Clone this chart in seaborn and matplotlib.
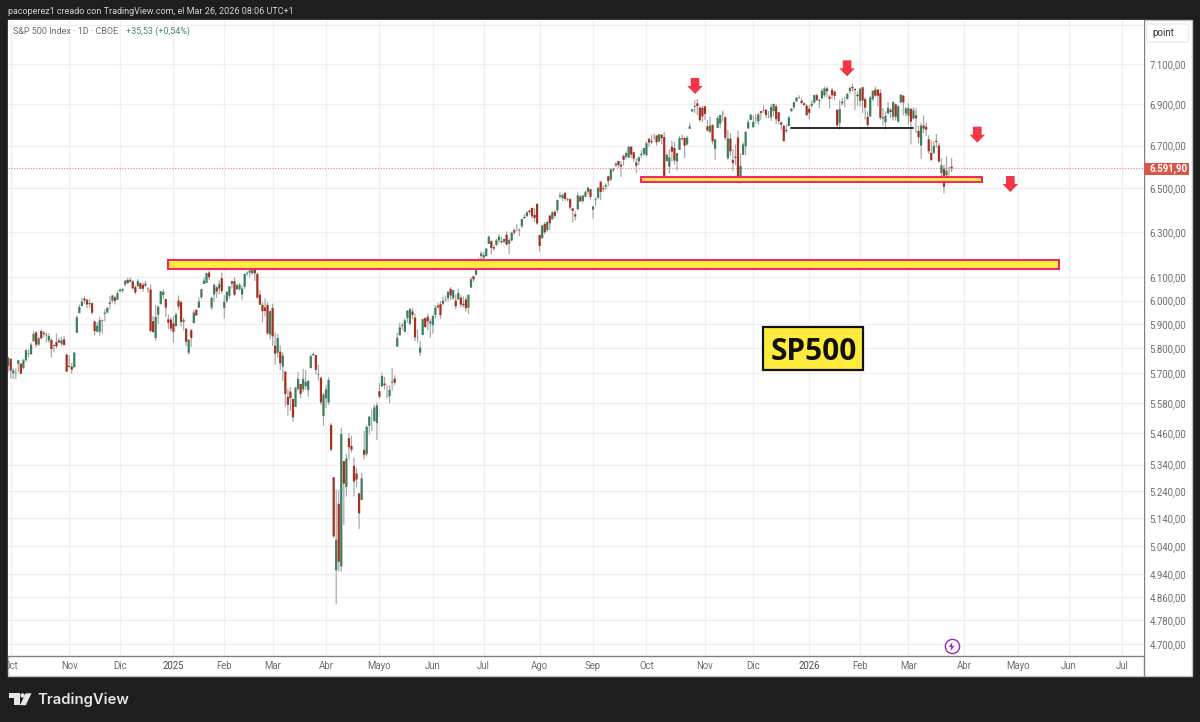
import matplotlib
matplotlib.use("Agg")
import numpy as np
import pandas as pd
import matplotlib.pyplot as plt
import seaborn as sns
from matplotlib.markers import MarkerStyle
from matplotlib.patches import Circle, Polygon, Rectangle, FancyBboxPatch
from matplotlib.path import Path
from matplotlib.ticker import NullLocator
from matplotlib.transforms import Bbox

# daily candles, one row per month (first value of the first row is the last bar of Sep 2024)
opens = [
    5727,
    5757, 5698, 5698, 5737, 5737, 5720, 5751, 5778, 5775, 5829, 5866, 5816, 5872, 5859, 5857, 5833, 5835, 5813, 5826, 5833, 5819, 5837, 5775,
    5723, 5725, 5722, 5864, 5947, 5977, 6009, 6003, 5985, 5989, 5912, 5870, 5869, 5914, 5944, 5950, 5992, 6000, 6014, 6004,
    6040, 6043, 6069, 6089, 6081, 6083, 6058, 6061, 6075, 6068, 6064, 6053, 6048, 5913, 5843, 5940, 5985, 6024, 6007, 5921, 5920,
    5904, 5892, 6000, 5994, 5911, 5882, 5782, 5875, 5905, 5961, 5970, 6015, 6072, 6077, 6121, 5970, 6027, 6057, 6052, 6097,
    5969, 5998, 6021, 6072, 6084, 6048, 6050, 6026, 6060, 6116, 6121, 6118, 6135, 6115, 6026, 5982, 5971, 5982, 5857,
    5969, 5811, 5782, 5786, 5726, 5705, 5603, 5624, 5594, 5563, 5635, 5655, 5633, 5646, 5630, 5719, 5772, 5772, 5695, 5680, 5527,
    5597, 5581, 5492, 5292, 4953, 5193, 4966, 5353, 5255, 5441, 5411, 5335, 5306, 5232, 5207, 5396, 5381, 5489, 5529, 5508, 5500,
    5626, 5645, 5657, 5606, 5606, 5660, 5676, 5807, 5854, 5896, 5869, 5927, 5902, 5954, 5928, 5841, 5782, 5855, 5926, 5932, 5903,
    5897, 5939, 5979, 5985, 5987, 6005, 6010, 6050, 6010, 6000, 6005, 6013, 5987, 6005, 5970, 6056, 6105, 6112, 6150, 6194,
    6187, 6193, 6247, 6260, 6233, 6243, 6263, 6255, 6256, 6288, 6248, 6263, 6308, 6305, 6307, 6326, 6368, 6371, 6397, 6409, 6378, 6428,
    6287, 6272, 6337, 6309, 6374, 6357, 6391, 6398, 6461, 6454, 6478, 6446, 6449, 6407, 6380, 6404, 6462, 6441, 6460, 6483, 6495,
    6401, 6445, 6456, 6530, 6499, 6506, 6555, 6540, 6588, 6606, 6627, 6609, 6651, 6647, 6643, 6695, 6668, 6620, 6625, 6655, 6661,
    6654, 6732, 6722, 6739, 6748, 6720, 6752, 6740, 6626, 6600, 6694, 6688, 6625, 6680, 6730, 6736, 6705, 6780, 6864, 6887, 6904, 6883, 6882,
    6890, 6792, 6766, 6798, 6685, 6785, 6805, 6854, 6836, 6640, 6733, 6632, 6647, 6738, 6556, 6656, 6697, 6782, 6823,
    6788, 6831, 6815, 6866, 6867, 6872, 6840, 6836, 6866, 6889, 6861, 6811, 6794, 6768, 6793, 6865, 6884, 6913, 6932, 6917, 6904, 6892,
    6878, 6892, 6908, 6944, 6915, 6929, 6944, 6978, 6937, 6970, 6961, 6872, 6810, 6904, 6915, 6925, 6965, 6985, 6975, 6947,
    6916, 6983, 6925, 6838, 6840, 6925, 6972, 6972, 6955, 6830, 6812, 6855, 6872, 6838, 6900, 6815, 6908, 6942, 6855,
    6845, 6877, 6830, 6845, 6770, 6700, 6796, 6790, 6730, 6665, 6665, 6722, 6700, 6570, 6590, 6560, 6548, 6600,
]
highs = [
    5765,
    5757, 5720, 5718, 5753, 5739, 5757, 5796, 5796, 5823, 5871, 5871, 5847, 5878, 5872, 5866, 5863, 5842, 5817, 5862, 5843, 5848, 5851, 5775,
    5772, 5741, 5783, 5937, 5984, 6013, 6018, 6010, 6009, 5993, 5915, 5909, 5932, 5920, 5964, 5974, 6020, 6025, 6020, 6044,
    6053, 6053, 6089, 6099, 6100, 6088, 6066, 6093, 6079, 6078, 6085, 6058, 6070, 5936, 5982, 5979, 6041, 6049, 6007, 5941, 5930,
    5936, 5950, 6022, 6000, 5928, 5882, 5838, 5881, 5961, 5964, 6014, 6051, 6100, 6119, 6129, 6018, 6074, 6064, 6087, 6121,
    6023, 6042, 6063, 6084, 6101, 6073, 6076, 6063, 6117, 6127, 6130, 6147, 6135, 6120, 6044, 5993, 6010, 5994, 5960,
    5987, 5866, 5860, 5812, 5783, 5705, 5636, 5642, 5598, 5645, 5704, 5655, 5716, 5711, 5670, 5776, 5783, 5772, 5732, 5685, 5620,
    5650, 5682, 5500, 5292, 5246, 5246, 5481, 5353, 5381, 5460, 5451, 5367, 5328, 5232, 5309, 5469, 5490, 5528, 5553, 5572, 5581,
    5659, 5700, 5683, 5649, 5650, 5720, 5690, 5864, 5907, 5906, 5925, 5959, 5969, 5968, 5945, 5878, 5830, 5923, 5930, 5944, 5922,
    5937, 5982, 5991, 5999, 6017, 6022, 6039, 6059, 6046, 6027, 6051, 6024, 6018, 6018, 6026, 6102, 6108, 6146, 6187, 6215,
    6211, 6228, 6285, 6263, 6242, 6269, 6291, 6279, 6271, 6303, 6272, 6301, 6316, 6336, 6317, 6360, 6381, 6395, 6402, 6410, 6409, 6428,
    6288, 6330, 6345, 6352, 6379, 6395, 6402, 6446, 6481, 6474, 6481, 6456, 6453, 6408, 6394, 6480, 6466, 6466, 6489, 6507, 6495,
    6417, 6458, 6503, 6533, 6512, 6522, 6555, 6593, 6594, 6620, 6627, 6625, 6657, 6672, 6697, 6697, 6668, 6639, 6648, 6677, 6689,
    6718, 6735, 6750, 6756, 6750, 6754, 6752, 6765, 6665, 6681, 6723, 6716, 6665, 6745, 6752, 6741, 6746, 6808, 6877, 6920, 6925, 6890, 6892,
    6890, 6823, 6839, 6803, 6733, 6843, 6847, 6869, 6842, 6775, 6759, 6684, 6706, 6771, 6662, 6716, 6767, 6824, 6849,
    6844, 6852, 6858, 6866, 6895, 6878, 6866, 6900, 6903, 6899, 6862, 6815, 6800, 6802, 6842, 6881, 6911, 6936, 6945, 6930, 6910, 6900,
    6895, 6920, 6946, 6952, 6926, 6978, 6986, 6986, 6945, 6980, 6967, 6874, 6920, 6933, 6938, 6956, 6989, 7002, 6978, 6964,
    6981, 6987, 6935, 6865, 6940, 6970, 6987, 6973, 6973, 6881, 6866, 6910, 6880, 6915, 6905, 6895, 6950, 6945, 6885,
    6905, 6880, 6885, 6880, 6795, 6810, 6845, 6810, 6750, 6725, 6720, 6755, 6712, 6640, 6610, 6650, 6600, 6640,
]
lows = [
    5703,
    5677, 5675, 5675, 5703, 5696, 5714, 5745, 5763, 5775, 5829, 5804, 5809, 5840, 5846, 5824, 5822, 5762, 5784, 5800, 5823, 5811, 5813, 5703,
    5723, 5696, 5722, 5864, 5947, 5976, 5985, 5966, 5970, 5942, 5854, 5865, 5853, 5860, 5912, 5945, 5963, 5992, 5984, 6004,
    6035, 6034, 6062, 6074, 6079, 6048, 6027, 6061, 6049, 6038, 6059, 6033, 5868, 5867, 5832, 5902, 5985, 6006, 5932, 5880, 5871,
    5824, 5892, 5960, 5891, 5874, 5809, 5774, 5805, 5905, 5936, 5970, 6007, 6072, 6075, 6088, 5962, 5995, 6012, 6027, 6030,
    5924, 5990, 6008, 6052, 6020, 6048, 6042, 6004, 6051, 6107, 6100, 6112, 6084, 6008, 5982, 5908, 5933, 5858, 5837,
    5810, 5733, 5762, 5711, 5667, 5565, 5529, 5547, 5505, 5563, 5628, 5598, 5622, 5633, 5604, 5719, 5768, 5694, 5670, 5572, 5489,
    5558, 5571, 5390, 5069, 4835, 4948, 4948, 5115, 5220, 5358, 5386, 5220, 5255, 5101, 5207, 5360, 5371, 5456, 5469, 5505, 5434,
    5597, 5645, 5634, 5598, 5578, 5628, 5650, 5807, 5854, 5878, 5868, 5907, 5895, 5921, 5830, 5825, 5768, 5855, 5884, 5875, 5844,
    5861, 5923, 5967, 5922, 5979, 5996, 5996, 6003, 6004, 5963, 6005, 5970, 5971, 5953, 5943, 6056, 6080, 6108, 6132, 6175,
    6175, 6192, 6247, 6201, 6218, 6237, 6249, 6248, 6249, 6242, 6201, 6258, 6286, 6304, 6281, 6317, 6358, 6371, 6380, 6362, 6344, 6332,
    6213, 6272, 6290, 6302, 6309, 6357, 6364, 6386, 6452, 6441, 6441, 6438, 6401, 6344, 6353, 6397, 6437, 6431, 6460, 6471, 6447,
    6361, 6417, 6448, 6445, 6482, 6491, 6510, 6533, 6575, 6598, 6594, 6552, 6605, 6635, 6642, 6641, 6622, 6570, 6606, 6639, 6650,
    6650, 6693, 6706, 6727, 6699, 6715, 6706, 6551, 6626, 6569, 6625, 6611, 6583, 6680, 6724, 6640, 6700, 6780, 6864, 6856, 6847, 6814, 6812,
    6824, 6766, 6759, 6705, 6631, 6785, 6782, 6815, 6725, 6632, 6650, 6580, 6607, 6521, 6521, 6656, 6654, 6782, 6823,
    6785, 6806, 6799, 6824, 6858, 6833, 6830, 6818, 6841, 6802, 6801, 6775, 6721, 6760, 6793, 6865, 6875, 6913, 6927, 6900, 6893, 6844,
    6825, 6883, 6902, 6916, 6880, 6922, 6934, 6933, 6878, 6925, 6920, 6790, 6775, 6894, 6884, 6923, 6951, 6961, 6871, 6893,
    6889, 6857, 6825, 6780, 6838, 6915, 6936, 6890, 6824, 6795, 6776, 6850, 6833, 6820, 6820, 6810, 6905, 6845, 6840,
    6800, 6705, 6825, 6760, 6710, 6636, 6760, 6745, 6660, 6625, 6660, 6690, 6618, 6555, 6476, 6530, 6530, 6575,
]
closes = [
    5762,
    5709, 5710, 5700, 5751, 5696, 5751, 5792, 5780, 5815, 5860, 5815, 5842, 5841, 5865, 5854, 5851, 5797, 5810, 5808, 5824, 5833, 5814, 5705,
    5729, 5713, 5783, 5929, 5973, 5996, 6001, 5984, 5990, 5949, 5871, 5894, 5917, 5917, 5949, 5969, 5987, 6022, 5999, 6032,
    6047, 6050, 6086, 6075, 6090, 6053, 6035, 6084, 6051, 6051, 6074, 6051, 5872, 5867, 5931, 5974, 6040, 6038, 5971, 5907, 5882,
    5869, 5942, 5975, 5909, 5918, 5827, 5836, 5843, 5950, 5937, 5997, 6049, 6086, 6119, 6101, 6012, 6068, 6039, 6071, 6041,
    5995, 6038, 6061, 6084, 6026, 6066, 6069, 6052, 6115, 6120, 6130, 6144, 6118, 6013, 5983, 5955, 5956, 5862, 5955,
    5850, 5778, 5843, 5739, 5770, 5615, 5572, 5599, 5522, 5639, 5675, 5615, 5675, 5663, 5668, 5768, 5777, 5712, 5693, 5581, 5612,
    5633, 5671, 5397, 5074, 5062, 4983, 5457, 5268, 5363, 5406, 5397, 5276, 5283, 5158, 5288, 5376, 5485, 5525, 5529, 5561, 5569,
    5604, 5687, 5650, 5607, 5631, 5664, 5660, 5844, 5887, 5893, 5917, 5958, 5964, 5940, 5845, 5842, 5803, 5922, 5889, 5912, 5912,
    5936, 5970, 5971, 5939, 6000, 6006, 6039, 6022, 6045, 5977, 6033, 5983, 5981, 5968, 6025, 6092, 6092, 6141, 6173, 6205,
    6198, 6227, 6279, 6230, 6226, 6263, 6280, 6260, 6269, 6244, 6264, 6297, 6297, 6306, 6310, 6359, 6363, 6389, 6390, 6371, 6363, 6339,
    6238, 6330, 6299, 6345, 6340, 6389, 6373, 6446, 6467, 6469, 6450, 6449, 6411, 6396, 6370, 6467, 6439, 6466, 6481, 6502, 6460,
    6416, 6448, 6502, 6482, 6495, 6513, 6532, 6587, 6584, 6615, 6607, 6600, 6632, 6664, 6694, 6657, 6638, 6605, 6644, 6661, 6688,
    6711, 6715, 6716, 6740, 6715, 6754, 6735, 6553, 6655, 6644, 6671, 6629, 6664, 6735, 6735, 6699, 6738, 6792, 6875, 6891, 6891, 6822, 6840,
    6852, 6772, 6796, 6720, 6729, 6832, 6847, 6851, 6737, 6734, 6672, 6617, 6642, 6539, 6603, 6705, 6766, 6813, 6849,
    6813, 6829, 6850, 6857, 6870, 6847, 6841, 6887, 6901, 6827, 6817, 6800, 6721, 6775, 6835, 6878, 6910, 6932, 6930, 6906, 6896, 6846,
    6858, 6902, 6945, 6921, 6921, 6966, 6977, 6964, 6927, 6944, 6940, 6797, 6876, 6913, 6916, 6950, 6979, 6978, 6969, 6939,
    6976, 6918, 6883, 6798, 6932, 6965, 6942, 6941, 6833, 6836, 6843, 6881, 6862, 6910, 6838, 6890, 6946, 6909, 6879,
    6882, 6815, 6870, 6831, 6740, 6796, 6781, 6776, 6673, 6632, 6699, 6716, 6625, 6606, 6506, 6581, 6556, 6591.9,
]

price_ticks = [7300, 7100, 6900, 6700, 6500, 6300, 6100, 6000, 5900, 5800, 5700, 5580,
               5460, 5340, 5240, 5140, 5040, 4940, 4860, 4780, 4700]
month_bars = [0, 23, 43, 64, 84, 103, 124, 145, 166, 186, 208, 229, 250, 273, 292,
              314, 334, 353, 375, 396, 416, 437]
month_labels = ["Oct", "Nov", "Dic", "2025", "Feb", "Mar", "Abr", "Mayo", "Jun", "Jul", "Ago", "Sep",
                "Oct", "Nov", "Dic", "2026", "Feb", "Mar", "Abr", "Mayo", "Jun", "Jul"]
last_price = 6591.90

# drawings on the chart
arrow_bars = [269.1, 328.9, 380.1, 393.1]
arrow_prices = [6990, 7078, 6752, 6519]
zone_big = (61.7, 412.1, 6137, 6174)
zone_small = (247.9, 381.8, 6530, 6550)
neckline = (306.7, 354.9, 6786)
sp_box = (296.0, 335.3, 5711, 5890)

sns.set_theme(style="white")
plt.rcParams["font.family"] = ["Roboto", "DejaVu Sans"]

RED = "#a5301f"
GREEN = "#3c7f5f"
WICK = "#a6a6a6"
DARK = "#1e1e1e"
GRID = "#f0f0f0"
ALERT = "#f23645"
YELLOW = "#ffeb3b"
PINK = "#ec2a6c"
PURPLE = "#9c27b0"

W, H = 1200, 722
L, T, R, B = 8, 20, 1143.7, 656

fig = plt.figure(figsize=(W / 100, H / 100), dpi=100, facecolor=DARK)

# frame around the chart, in image pixels
chrome = fig.add_axes([0, 0, 1, 1], zorder=0)
chrome.set_xlim(0, W)
chrome.set_ylim(H, 0)
chrome.axis("off")
chrome.add_patch(Rectangle((L, T), 1192 - L, 676 - T, fc="white", ec="#c4c4c4", lw=1))
chrome.plot([R, R], [T, 676], color="#808080", lw=1)

ax = fig.add_axes([L / W, 1 - B / H, (R - L) / W, (B - T) / H], zorder=1)

bars = np.arange(len(closes)) - 1
df = pd.DataFrame({"bar": bars, "open": opens, "high": highs, "low": lows, "close": closes})
df["dir"] = np.where(df["close"] >= df["open"], "up", "down")
wicks = df.melt(id_vars=["bar"], value_vars=["low", "high"], value_name="price")
bodies = df.melt(id_vars=["bar", "dir"], value_vars=["open", "close"], value_name="price")

sns.lineplot(data=wicks, x="bar", y="price", units="bar", estimator=None, color=WICK,
             linewidth=0.85, solid_capstyle="butt", snap=False, ax=ax, legend=False, zorder=2)
sns.lineplot(data=bodies, x="bar", y="price", units="bar", estimator=None, hue="dir",
             palette={"up": GREEN, "down": RED}, linewidth=1.6, solid_capstyle="butt", snap=False,
             ax=ax, legend=False, zorder=3)

ax.set_yscale("log")
ax.set_xlim((L - 10.7) / 2.543, (R - 10.7) / 2.543)
ax.set_ylim(7100 * np.exp(-(B - 64) / 1406), 7100 * np.exp(-(T - 64) / 1406))
ax.set_xlabel("")
ax.set_ylabel("")

ax.yaxis.tick_right()
ax.yaxis.set_major_locator(plt.FixedLocator(price_ticks))
ax.yaxis.set_minor_locator(NullLocator())
ax.set_yticklabels(["" if p == 7300 else f"{p:,.2f}".replace(",", " ").replace(".", ",").replace(" ", ".")
                    for p in price_ticks])
ax.set_xticks(month_bars)
ax.set_xticklabels(month_labels)
ax.tick_params(axis="y", length=0, pad=4.2, labelsize=6.9, labelcolor="#6e6e6e")
ax.tick_params(axis="x", length=0, pad=3.4, labelsize=6.9, labelcolor="#6e6e6e")
ax.grid(True, color=GRID, lw=1, zorder=0)
ax.set_axisbelow(True)
for name, spine in ax.spines.items():
    spine.set_visible(name == "bottom")
    spine.set_color("#808080")
    spine.set_linewidth(1)

for label, text in zip(ax.get_xticklabels(), month_labels):
    label.set_clip_on(True)
    label.set_clip_box(Bbox([[L, 0], [1192, H]]))
    if text.startswith("20"):
        label.set_color("#4a4a4a")

# last price
ax.axhline(last_price, color="#e8806f", lw=0.8, ls=(0, (1, 1.5)), zorder=1)

# horizontal zones
for x0, x1, p0, p1 in [zone_big, zone_small]:
    ax.add_patch(Rectangle((x0, p0), x1 - x0, p1 - p0, fc=YELLOW, ec=PINK, lw=1.5, zorder=4))
ax.plot(neckline[:2], [neckline[2], neckline[2]], color="#2a2a2a", lw=1.4, zorder=4)

# red arrows
arrow = Path([(-4.3, 8), (4.3, 8), (4.3, 0), (7.8, 0), (0, -8), (-7.8, 0), (-4.3, 0), (-4.3, 8)],
             closed=True)
sns.scatterplot(x=arrow_bars, y=arrow_prices, marker=MarkerStyle(arrow), s=133, color=ALERT,
                edgecolor="none", linewidth=0, ax=ax, legend=False, zorder=5)

# SP500 tag
x0, x1, p0, p1 = sp_box
ax.add_patch(Rectangle((x0, p0), x1 - x0, p1 - p0, fc=YELLOW, ec="#111111", lw=1.6, zorder=5))
ax.text((x0 + x1) / 2, 5799, "SP500", ha="center", va="center_baseline", fontsize=21.5,
        fontweight="bold", family="Open Sans", color="#111111", zorder=6)

# earnings marker at the last bar
bolt = Path([(1.5, 8), (-5, -1), (-0.6, -1), (-1.5, -8), (5, 1), (0.6, 1), (1.5, 8)], closed=True)
sns.scatterplot(x=[370], y=[4692], s=105, color="white", edgecolor=PURPLE, linewidth=1,
                ax=ax, legend=False, zorder=5, clip_on=False)
sns.scatterplot(x=[370], y=[4692], marker=MarkerStyle(bolt), s=42, color=PURPLE, edgecolor="none",
                linewidth=0, ax=ax, legend=False, zorder=6, clip_on=False)


def over(x, y, s, **kw):
    # text on top of everything, placed in image pixels
    return fig.text(x / W, 1 - y / H, s, va="center", zorder=5, **kw)


over(7.5, 11, "pacoperez1 creado con TradingView.com, el Mar 26, 2026 08:06 UTC+1",
     fontsize=6.5, color="#d4d4d4")
over(13, 31.5, "S&P 500 Index \u00b7 1D \u00b7 CBOE", fontsize=6.5, color="#6a6a6a")
over(125.5, 31.5, "+35,53 (+0,54%)", fontsize=6.5, color="#4a8a6a")

top = fig.add_axes([0, 0, 1, 1], zorder=4)
top.set_xlim(0, W)
top.set_ylim(H, 0)
top.axis("off")
top.patch.set_alpha(0)
top.add_patch(FancyBboxPatch((1146.5, 24), 42, 18, boxstyle="round,pad=0,rounding_size=2",
                             fc="white", ec="#ececec", lw=1))
over(1152.7, 33, "point", fontsize=7, color="#333333")
top.add_patch(Rectangle((R, 163), 45, 12.4, fc="#d9574a", ec="none"))
over(1149.7, 169.2, "6.591,90", fontsize=6.9, fontweight="bold", color="white")

# TradingView mark and name
logo = "#e6e6e6"
chrome.add_patch(Polygon([(9, 693.3), (19.5, 693.3), (19.5, 705.2), (14, 705.2), (14, 697.6), (9, 697.6)],
                         fc=logo, ec="none"))
chrome.add_patch(Circle((22.6, 695.5), 2.2, fc=logo, ec="none"))
chrome.add_patch(Polygon([(25.7, 693.3), (31.5, 693.3), (25.8, 705.2), (20, 705.2)], fc=logo, ec="none"))
over(37, 699.5, "TradingView", fontsize=10.7, fontweight="semibold", family="Inter", color=logo)

fig.savefig("out.png", dpi=100, facecolor=DARK)
